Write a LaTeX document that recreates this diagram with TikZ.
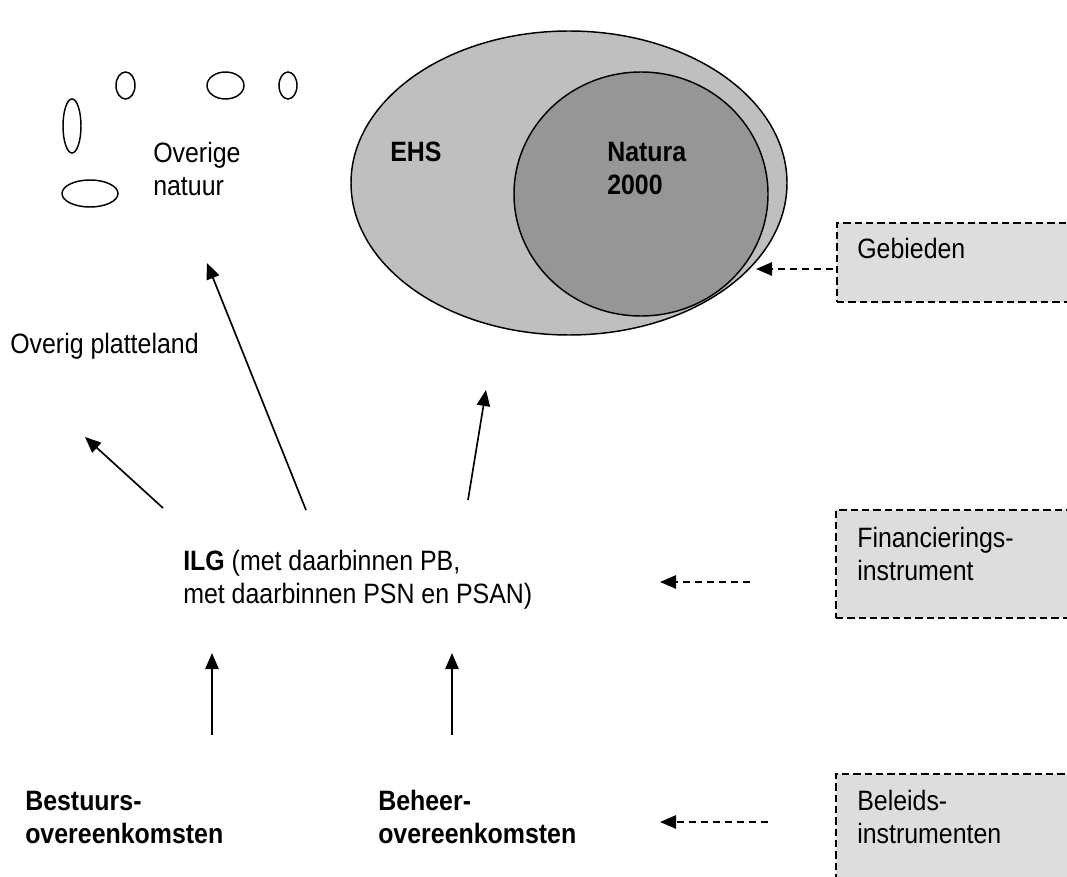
\documentclass[tikz,border=0pt]{standalone}
\usepackage{fontspec}
\setmainfont[FakeStretch=0.89]{Liberation Sans}
\usetikzlibrary{shapes.geometric,arrows.meta}
\definecolor{ehsgray}{RGB}{191,191,191}
\definecolor{natgray}{RGB}{150,150,150}
\definecolor{boxgray}{RGB}{221,221,221}
\begin{document}
\begin{tikzpicture}[x=0.75pt,y=-0.75pt,
  txt/.style={anchor=base west,inner sep=0pt,align=left,font=\fontsize{21}{24.75}\selectfont},
  btxt/.style={txt,font=\fontsize{21}{24.75}\selectfont\bfseries},
  oval/.style={draw,ellipse,inner sep=0pt,line width=1.1pt},
  infobox/.style={draw,dash pattern=on 5.5pt off 3pt,line width=1.4pt,fill=boxgray,inner sep=0pt,anchor=north west},
  arr/.style={line width=1.25pt,-{Triangle[length=12pt,width=10pt]}},
  darr/.style={line width=1.3pt,dash pattern=on 5pt off 4pt,-{Triangle[length=12pt,width=10pt]}}]
\useasboundingbox (0,0) rectangle (1067,877);
\clip (0,0) rectangle (1067,877);
% big ellipses
\node[oval,fill=ehsgray,minimum width=327pt,minimum height=228pt] (ehs) at (569,183) {};
\node[oval,fill=natgray,minimum width=190.5pt,minimum height=183pt] (nat) at (641,194) {};
\node[btxt] (ehst) at (390,162) {EHS};
\node[btxt] (natt) at (607,195) {Natura\\2000};
% small ellipses
\node[oval,minimum width=14.25pt,minimum height=20.25pt] (e1) at (125.5,85.5) {};
\node[oval,minimum width=27.75pt,minimum height=20.25pt] (e2) at (225.5,85.5) {};
\node[oval,minimum width=13.5pt,minimum height=20.25pt] (e3) at (288,85.5) {};
\node[oval,minimum width=13.5pt,minimum height=40.5pt] (e4) at (72,126) {};
\node[oval,minimum width=42pt,minimum height=20.25pt] (e5) at (90,193.5) {};
\node[txt] (overnat) at (153,196) {Overige\\natuur};
\node[txt] (platt) at (10,353) {Overig platteland};
% boxes
\node[infobox,minimum width=183.75pt,minimum height=59.25pt] (gbox) at (836,222) {};
\node[infobox,minimum width=184.5pt,minimum height=81pt] (fbox) at (835,509) {};
\node[infobox,minimum width=184.5pt,minimum height=100pt] (bbox) at (835,773) {};
\node[txt] (gt) at (857,259) {Gebieden};
\node[txt] (ft) at (857,580) {Financierings-\\instrument};
\node[txt] (bt) at (857,843) {Beleids-\\instrumenten};
% central texts
\node[txt] (ilg) at (183,603) {\textbf{ILG} (met daarbinnen PB,\\met daarbinnen PSN en PSAN)};
\node[btxt] (best) at (25,843) {Bestuurs-\\overeenkomsten};
\node[btxt] (beh) at (378,843) {Beheer-\\overeenkomsten};
% coordinates
\coordinate (a1s) at (163,508); \coordinate (a1e) at (85,437);
\coordinate (a2s) at (306,510); \coordinate (a2e) at (207,263);
\coordinate (a3s) at (468,500); \coordinate (a3e) at (486,390);
\coordinate (a4s) at (212,735); \coordinate (a4e) at (212,653);
\coordinate (a5s) at (452,735); \coordinate (a5e) at (452,653);
\coordinate (d1s) at (833,269); \coordinate (d1e) at (756,269);
\coordinate (d2s) at (750,582); \coordinate (d2e) at (660,582);
\coordinate (d3s) at (768,822); \coordinate (d3e) at (660,822);
% arrows
\draw[arr] (a1s) -- (a1e);
\draw[arr] (a2s) -- (a2e);
\draw[arr] (a3s) -- (a3e);
\draw[arr] (a4s) -- (a4e);
\draw[arr] (a5s) -- (a5e);
\draw[darr] (d1s) -- (d1e);
\draw[darr] (d2s) -- (d2e);
\draw[darr] (d3s) -- (d3e);
\end{tikzpicture}
\end{document}
